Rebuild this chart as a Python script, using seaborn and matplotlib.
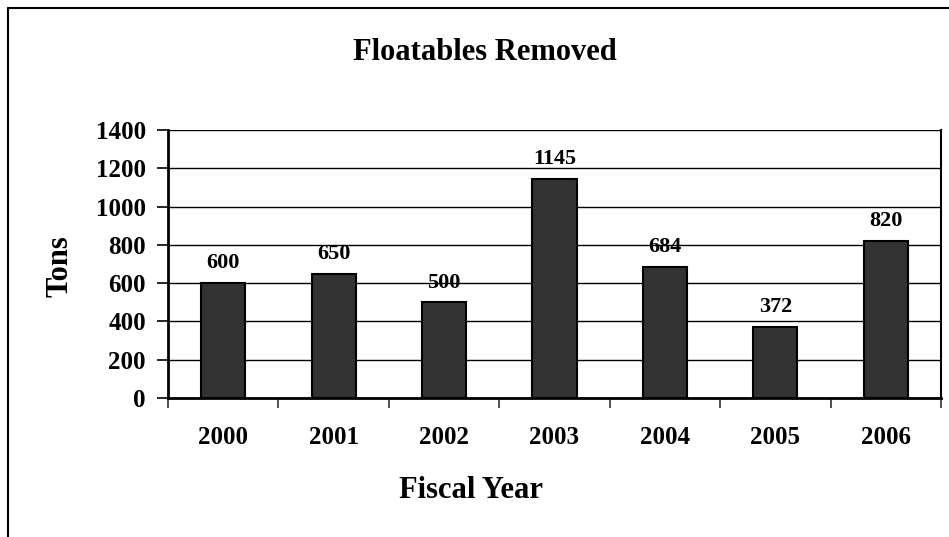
import matplotlib
matplotlib.use("Agg")
import matplotlib.pyplot as plt
from matplotlib.lines import Line2D
from matplotlib.ticker import FixedLocator
import seaborn as sns
import pandas as pd

years = ["2000", "2001", "2002", "2003", "2004", "2005", "2006"]
tons = [600, 650, 500, 1145, 684, 372, 820]
y_ticks = [0, 200, 400, 600, 800, 1000, 1200, 1400]

sns.set_theme(style="white")
plt.rcParams['font.family'] = ['Liberation Serif', 'DejaVu Serif']
plt.rcParams['font.weight'] = 'bold'
plt.rcParams['text.color'] = 'black'
plt.rcParams['axes.labelcolor'] = 'black'
plt.rcParams['xtick.color'] = 'black'
plt.rcParams['ytick.color'] = 'black'

df = pd.DataFrame({"year": years, "tons": tons})

fig = plt.figure(figsize=(9.49, 5.37), dpi=100)
ax = fig.add_axes([168/949, 1-398/537, (941-168)/949, (398-130)/537])

sns.barplot(data=df, x="year", y="tons", color="#333333", saturation=1,
            width=0.4, edgecolor="black", linewidth=1.5, ax=ax, zorder=3)

ax.set_xlim(-0.5, len(years) - 0.5)
ax.set_ylim(0, 1400)
ax.set_yticks(y_ticks)
ax.set_yticklabels([str(v) for v in y_ticks], fontsize=18, fontweight='bold')
ax.set_xticks(range(len(years)))
ax.set_xticklabels(years, fontsize=18, fontweight='bold')
ax.xaxis.set_minor_locator(FixedLocator([i - 0.5 for i in range(len(years) + 1)]))
ax.tick_params(axis='x', which='major', length=0, pad=20, labelcolor='black')
ax.tick_params(axis='x', which='minor', length=7, width=1.2, direction='out', color='#333333', bottom=True)
ax.tick_params(axis='y', which='major', length=8, width=1.2, direction='out', pad=8, left=True, labelcolor='black')

ax.yaxis.grid(True, color='black', linewidth=1.0, zorder=0)
ax.set_axisbelow(True)
for side in ['left', 'bottom']:
    ax.spines[side].set_color('black')
    ax.spines[side].set_linewidth(2)
ax.spines['top'].set_visible(False)
ax.spines['right'].set_color('black')
ax.spines['right'].set_linewidth(1.5)

for i, v in enumerate(tons):
    ax.annotate(str(v), (i, v), xytext=(0, 7), textcoords='offset points',
                ha='center', va='bottom', fontsize=16, fontweight='bold', color='black')

ax.set_xlabel("")
ax.set_ylabel("")
fig.text(471/949, 1 - 490/537, "Fiscal Year", ha='center', va='center',
         fontsize=22, fontweight='bold', color='black')
fig.text(60/949, 1 - 266/537, "Tons", ha='center', va='center', rotation=90,
         fontsize=22, fontweight='bold', color='black')
fig.text(485/949, 1 - 52/537, "Floatables Removed", ha='center', va='center',
         fontsize=22, fontweight='bold', color='black')

# outer chart border
fig.add_artist(Line2D([7.5/949, 7.5/949], [0, 1 - 8/537], color='black', linewidth=1.5, transform=fig.transFigure))
fig.add_artist(Line2D([7.5/949, 1], [1 - 8/537, 1 - 8/537], color='black', linewidth=1.5, transform=fig.transFigure))

fig.savefig("out.png", dpi=100, facecolor='white')
